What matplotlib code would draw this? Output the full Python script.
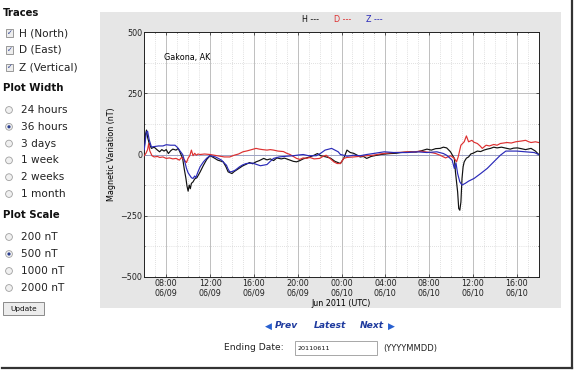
import matplotlib
matplotlib.use("Agg")
import matplotlib.pyplot as plt
from matplotlib.patches import Rectangle, Ellipse
from matplotlib.lines import Line2D

W, H_PX = 574, 370

# ---------------- data (hours since 06:00 06/09) ----------------
h_t = [0.0, 0.1, 0.2, 0.3, 0.45, 0.65, 0.9, 1.2, 1.4, 1.6, 1.8, 2.0, 2.2, 2.4, 2.6, 2.9, 3.1, 3.25,
       3.5, 3.65, 3.8, 3.9, 4.0, 4.1, 4.2, 4.3, 4.45, 4.6, 4.8, 5.1, 5.4, 5.7, 6.0, 6.3, 6.7, 7.2,
       7.45, 7.65, 8.0, 8.2, 8.4, 8.7, 9.0, 9.3, 9.6, 9.9, 10.2, 10.5, 10.9, 11.2, 11.5, 11.8, 12.1,
       12.5, 12.8, 13.3, 13.6, 13.9, 14.2, 14.5, 15.1, 15.5, 15.8, 16.1, 16.6, 17.0, 17.4, 17.9, 18.2,
       18.5, 18.8, 19.1, 19.4, 19.7, 20.0, 20.3, 20.7, 21.0, 21.6, 22.0, 22.5, 23.0, 23.4, 24.3, 24.8,
       25.2, 25.8, 26.2, 26.6, 27.0, 27.3, 27.6, 27.95, 28.15, 28.3, 28.4, 28.6, 28.7, 28.8, 28.9,
       29.0, 29.1, 29.2, 29.4, 29.6, 29.8, 30.0, 30.4, 30.7, 31.0, 31.3, 31.6, 31.9, 32.2, 32.6, 33.0,
       33.4, 33.7, 34.05, 34.4, 34.8, 35.3, 35.7, 36.0]
h_v = [30, 80, 100, 70, 45, 25, 30, 18, 11, 20, 14, 20, 4, 15, 22, 18, 25, 10,
       -16, -60, -98, -130, -150, -125, -140, -118, -112, -100, -95, -71, -44, -20, -5, -12, -23, -30,
       -50, -71, -78, -70, -64, -55, -46, -40, -33, -38, -30, -25, -16, -22, -18, -25, -14,
       -18, -15, -23, -28, -30, -25, -18, -10, -3, 4, -5, -10, -15, -28, -37, -16,
       18, 8, 5, -2, -10, -8, -16, -8, -5, 0, 2, 4, 5, 8, 11, 10,
       14, 22, 18, 24, 25, 30, 27, 11, -5, -16, -71, -153, -221, -228, -194,
       -98, -50, -30, -15, -10, 2, 5, 14, 12, 18, 22, 25, 30, 27, 30, 26,
       22, 26, 27, 24, 20, 25, 14, 0]

d_t = [0.0, 0.15, 0.3, 0.4, 0.5, 0.7, 0.9, 1.2, 1.4, 1.7, 2.0, 2.3, 2.6, 2.9, 3.2, 3.4, 3.6, 3.85,
       4.0, 4.15, 4.3, 4.45, 4.6, 4.75, 4.9, 5.1, 5.5, 6.0, 6.4, 6.9, 7.3, 7.8, 8.2, 8.6, 9.0, 9.4,
       9.8, 10.2, 10.5, 10.8, 11.2, 11.5, 11.8, 12.2, 12.7, 13.0, 13.3, 13.6, 13.9, 14.2, 14.5, 14.8,
       15.1, 15.5, 16.0, 16.3, 16.6, 17.0, 17.3, 17.6, 17.9, 18.2, 18.5, 19.1, 19.8, 20.3, 20.9, 21.5,
       22.0, 22.8, 23.5, 24.0, 24.5, 25.2, 25.8, 26.3, 26.6, 27.0, 27.5, 27.95, 28.3, 28.5, 28.65,
       28.9, 29.05, 29.2, 29.4, 29.6, 29.9, 30.1, 30.4, 30.65, 30.85, 31.2, 31.5, 31.9, 32.2, 32.5,
       33.1, 33.5, 33.9, 34.4, 34.8, 35.1, 35.3, 35.7, 36.0]
d_v = [-5, 5, 20, 45, 15, -5, -10, -8, -12, -10, -16, -14, -18, -16, -23, -12, -20, -33,
       -15, -5, 18, -5, 5, -3, 2, 0, 2, 0, -3, -7, -10, -10, -3, 2, 11, 15,
       20, 25, 22, 20, 18, 20, 18, 14, 12, 5, 0, -8, -16, -20, -14, -16,
       -12, -18, -16, -8, -3, -18, -30, -37, -37, -16, -12, -10, -7, -5, -3, 2,
       5, 8, 9, 11, 10, 14, 10, 7, 4, -3, -14, -5, -16, -30, -10,
       38, 45, 52, 76, 52, 58, 50, 45, 35, 25, 38, 35, 41, 38, 45,
       49, 47, 52, 55, 58, 52, 49, 52, 49]

z_t = [0.0, 0.1, 0.2, 0.3, 0.45, 0.65, 1.0, 1.3, 1.7, 2.0, 2.4, 2.8, 3.0, 3.2, 3.5, 3.7, 3.85, 4.0,
       4.15, 4.3, 4.45, 4.6, 4.7, 4.9, 5.1, 5.4, 5.7, 6.0, 6.5, 7.05, 7.3, 7.5, 7.65, 7.8, 8.0, 8.3,
       8.7, 9.0, 9.3, 9.9, 10.2, 10.6, 11.2, 11.5, 11.8, 12.3, 13.0, 13.6, 14.1, 14.5, 15.0, 15.7,
       16.1, 16.5, 17.1, 17.4, 17.7, 17.9, 18.2, 18.5, 19.1, 19.7, 20.3, 20.9, 21.9, 22.8, 24.0,
       24.9, 25.8, 26.7, 27.3, 27.6, 28.1, 28.3, 28.45, 28.6, 28.8, 29.0, 29.3, 29.6, 30.1, 30.7,
       31.3, 31.9, 32.5, 33.0, 34.0, 34.8, 35.6, 36.0]
z_v = [20, 60, 93, 95, 60, 31, 33, 35, 35, 40, 38, 38, 30, 18, 0, -30, -57, -75,
       -85, -95, -98, -88, -95, -71, -50, -30, -15, -5, -10, -23, -35, -44, -60, -71, -70, -64,
       -50, -42, -37, -35, -40, -46, -41, -28, -16, -10, -7, -5, -2, 0, -5, -5,
       5, 18, 25, 18, 11, 0, -3, -7, -3, -5, 0, 4, 11, 8, 8,
       11, 8, 11, 4, -3, -23, -57, -35, -78, -112, -125, -118, -109, -98, -78,
       -57, -30, -3, 14, 14, 11, 8, 0]

x_ticks = [2, 6, 10, 14, 18, 22, 26, 30, 34]
x_tick_labels = ["08:00\n06/09", "12:00\n06/09", "16:00\n06/09", "20:00\n06/09", "00:00\n06/10",
                 "04:00\n06/10", "08:00\n06/10", "12:00\n06/10", "16:00\n06/10"]
y_ticks = [-500, -250, 0, 250, 500]
y_tick_labels = ["\u2212500", "\u2212250", "0", "250", "500"]

traces_items = ["H (North)", "D (East)", "Z (Vertical)"]
width_items = ["24 hours", "36 hours", "3 days", "1 week", "2 weeks", "1 month"]
scale_items = ["200 nT", "500 nT", "1000 nT", "2000 nT"]
width_selected = 1
scale_selected = 1

# ---------------- figure ----------------
fig = plt.figure(figsize=(W / 100, H_PX / 100), dpi=100)
fig.patch.set_facecolor("white")


def fx(x):
    return x / W


def fy(y):
    return 1 - y / H_PX


def ftext(x, y, s, **kw):
    kw.setdefault("va", "center")
    kw.setdefault("ha", "left")
    fig.text(fx(x), fy(y), s, **kw)


def frect(x0, y0, x1, y1, **kw):
    fig.patches.append(Rectangle((fx(x0), fy(y1)), fx(x1) - fx(x0), fy(y0) - fy(y1),
                                 transform=fig.transFigure, **kw))


def fcircle(x, y, r, **kw):
    fig.patches.append(Ellipse((fx(x), fy(y)), 2 * r / W, 2 * r / H_PX,
                               transform=fig.transFigure, **kw))


# gray chart panel (behind axes)
frect(100, 12, 561, 308, facecolor="#e6e6e6", edgecolor="none", zorder=-5)

# page frame shadow (right and bottom)
fig.lines.append(Line2D([fx(572), fx(572)], [fy(0), fy(368)], transform=fig.transFigure,
                        color="#333333", lw=1.6))
fig.lines.append(Line2D([fx(2), fx(572)], [fy(367.5), fy(367.5)], transform=fig.transFigure,
                        color="#333333", lw=1.6))

# ---------------- sidebar ----------------
side_font = "DejaVu Sans"
item_fs = 7.6
head_fs = 7.3
ftext(3, 13, "Traces", fontsize=head_fs, fontweight="bold", color="#111111", family=side_font)
for i, s in enumerate(traces_items):
    y = 33 + i * 17
    frect(6, y - 3.5, 13, y + 3.5, facecolor="#eeeeee", edgecolor="#8a8a8a", lw=0.6, zorder=2)
    ftext(9.5, y, "\u2713", fontsize=5, color="#2b3f8f", ha="center", fontweight="bold")
    ftext(19, y, s, fontsize=item_fs, color="#222222", family=side_font)

ftext(3, 88, "Plot Width", fontsize=head_fs, fontweight="bold", color="#111111", family=side_font)
for i, s in enumerate(width_items):
    y = 110 + i * 16.8
    fcircle(9, y, 3.4, facecolor="#f0f0f0", edgecolor="#a0a0a0", lw=0.6, zorder=2)
    if i == width_selected:
        fcircle(9, y, 1.6, facecolor="#2b3f8f", edgecolor="none", zorder=3)
    ftext(21, y, s, fontsize=item_fs, color="#222222", family=side_font)

ftext(3, 215, "Plot Scale", fontsize=head_fs, fontweight="bold", color="#111111", family=side_font)
for i, s in enumerate(scale_items):
    y = 237 + i * 17
    fcircle(9, y, 3.4, facecolor="#f0f0f0", edgecolor="#a0a0a0", lw=0.6, zorder=2)
    if i == scale_selected:
        fcircle(9, y, 1.6, facecolor="#2b3f8f", edgecolor="none", zorder=3)
    ftext(21, y, s, fontsize=item_fs, color="#222222", family=side_font)

frect(3, 302, 44, 315, facecolor="#ececec", edgecolor="#8a8a8a", lw=0.7, zorder=2)
ftext(23.5, 308.5, "Update", fontsize=5.3, color="#111111", ha="center")

# ---------------- chart ----------------
ax = fig.add_axes([fx(144.3), fy(276.7), fx(538.7) - fx(144.3), fy(32.3) - fy(276.7)])
ax.set_facecolor("white")
ax.plot(h_t, h_v, color="#111111", lw=0.85, zorder=3)
ax.plot(d_t, d_v, color="#dd3030", lw=0.85, zorder=3)
ax.plot(z_t, z_v, color="#2a2ab8", lw=0.85, zorder=4)
ax.axhline(0, color="#9aa0c8", lw=0.6, zorder=2)

ax.set_xlim(0, 36)
ax.set_ylim(-500, 500)
ax.set_xticks(x_ticks)
ax.set_xticklabels(x_tick_labels, fontsize=5.8, linespacing=1.05)
ax.set_xticks(range(0, 37), minor=True)
ax.set_yticks(y_ticks)
ax.set_yticklabels(y_tick_labels, fontsize=5.8)
ax.set_yticks([-375, -125, 125, 375], minor=True)
ax.grid(which="major", color="#b4b4b4", lw=0.6, ls="-", zorder=1)
ax.grid(which="minor", color="#c4c4c4", lw=0.5, ls=(0, (1, 2)), zorder=1)
ax.tick_params(which="both", direction="in", length=2, width=0.5, top=True, right=True, pad=1.5,
               colors="#222222")
ax.tick_params(which="minor", length=1)
for sp in ax.spines.values():
    sp.set_color("#222222")
    sp.set_linewidth(0.7)
ax.set_ylabel("Magnetic Variation (nT)", fontsize=5.8, labelpad=3)
ax.set_xlabel("Jun 2011 (UTC)", fontsize=5.8, labelpad=1)
ax.text(0.05, 0.895, "Gakona, AK", transform=ax.transAxes, fontsize=5.8, va="center")

# legend header
ftext(301.5, 19, "H ---", fontsize=5.8, color="#111111")
ftext(334, 19, "D ---", fontsize=5.8, color="#dd3030")
ftext(366.5, 19, "Z ---", fontsize=5.8, color="#2a2ab8")

# ---------------- navigation ----------------
nav_col = "#1e3a9e"
ftext(268, 326, "\u25C0", fontsize=6.5, color="#2860d0", ha="center")
ftext(275, 326, "Prev", fontsize=6.6, color=nav_col, fontweight="bold", style="italic")
ftext(314, 326, "Latest", fontsize=6.6, color=nav_col, fontweight="bold", style="italic")
ftext(360, 326, "Next", fontsize=6.6, color=nav_col, fontweight="bold", style="italic")
ftext(391, 326, "\u25B6", fontsize=6.5, color="#2860d0", ha="center")

ftext(224, 348, "Ending Date:", fontsize=6.6, color="#222222")
frect(295, 341, 377, 355, facecolor="white", edgecolor="#999999", lw=0.6, zorder=2)
ftext(297.5, 348.5, "20110611", fontsize=4.6, color="#111111")
ftext(383, 348, "(YYYYMMDD)", fontsize=6.0, color="#222222", family="Liberation Sans Narrow")

fig.savefig("out.png", dpi=100, facecolor="white")
